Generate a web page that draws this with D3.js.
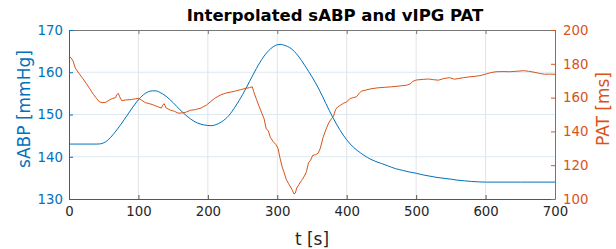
<!DOCTYPE html>
<html>
<head>
<meta charset="utf-8">
<script src="https://cdn.jsdelivr.net/npm/d3@7"></script>
<style>
  body { margin: 0; background: #fff; }
  svg { display: block; font-family: "DejaVu Sans", sans-serif; }
</style>
</head>
<body>
<div id="chart"></div>
<script>
// sABP curve: time [s] and value [mmHg]
const sabpTime = [0, 20, 40, 45, 50, 55, 60, 70, 80, 90, 100, 110, 120, 125, 130, 140, 150, 160, 170, 180, 190, 200, 205,
  210, 220, 230, 240, 250, 260, 270, 280, 290, 300, 305, 310, 320, 330, 340, 350, 360, 370, 380, 390, 400,
  410, 420, 430, 440, 450, 460, 470, 480, 490, 500, 510, 520, 530, 540, 550, 560, 570, 580, 590, 600, 650, 700];
const sabpValue = [143.0, 143.0, 143.0, 143.05, 143.3, 143.8, 144.6, 146.6, 148.9, 151.3, 153.5, 155.0, 155.6, 155.6, 155.3, 154.3, 152.8, 151.1, 149.6, 148.4, 147.7, 147.4, 147.35,
  147.5, 148.3, 149.7, 152.0, 154.7, 157.8, 160.9, 163.6, 165.5, 166.5, 166.6, 166.4, 165.6, 163.9, 161.5, 158.9, 156.0, 152.6, 149.3, 146.4, 144.0,
  142.2, 140.9, 139.8, 139.0, 138.4, 137.8, 137.2, 136.8, 136.4, 136.1, 135.7, 135.4, 135.1, 134.9, 134.7, 134.45, 134.3, 134.15, 134.05, 134.0, 134.0, 134.0];

// PAT curve: time [s] and value [ms]
const patTime = [0, 3, 6, 9, 14, 20, 25, 30, 35, 40, 44, 48, 53, 58, 63, 67, 69, 71, 73, 76, 82, 90, 96, 100, 104, 110, 116, 122, 128, 133, 135, 137, 140,
  146, 152, 157, 162, 168, 175, 182, 190, 198, 204, 210, 218, 226, 232, 240, 248, 255, 260, 264, 266, 270, 274, 278, 281, 284, 287, 290, 294, 298,
  301, 304, 307, 310, 313, 316, 320, 322, 324, 326, 328, 331, 335, 339, 342, 345, 348, 351, 355, 359, 362, 366, 370, 374, 378, 381, 384, 387, 391,
  395, 400, 405, 410, 414, 418, 421, 428, 435, 445, 455, 465, 477, 486, 491, 495, 500, 510, 518, 525, 532, 540, 548, 555, 560, 568, 575, 585, 592,
  600, 608, 615, 625, 635, 645, 655, 662, 670, 678, 685, 692, 700];
const patValue = [184.5, 183.5, 181.5, 177.5, 174.5, 171.2, 168.3, 165.2, 162.0, 159.3, 157.4, 157.0, 157.2, 158.6, 159.6, 159.9, 161.8, 162.5, 160.5, 158.2, 158.6, 158.9, 159.3, 159.6, 158.6, 157.0, 156.4, 155.6, 154.6, 153.8, 155.5, 156.4, 153.8,
  152.6, 151.9, 150.8, 150.9, 151.3, 152.5, 152.9, 153.8, 155.6, 157.6, 159.6, 161.5, 162.7, 163.2, 163.9, 164.8, 165.5, 165.9, 166.4, 163.5, 159.0, 154.6, 150.5, 147.5, 141.5, 140.5, 136.5, 134.0, 132.2,
  130.0, 124.1, 119.0, 115.5, 111.5, 109.3, 106.5, 105.0, 103.0, 103.5, 106.5, 108.5, 111.0, 113.5, 116.2, 121.5, 123.0, 125.8, 126.2, 127.2, 130.0, 136.5, 141.0, 145.0, 147.5, 149.0, 153.0, 154.5, 155.5,
  156.6, 157.5, 159.5, 160.0, 160.5, 162.5, 163.8, 164.5, 165.2, 165.8, 166.1, 166.4, 166.9, 167.3, 168.0, 169.5, 170.4, 170.8, 171.0, 170.6, 170.3, 171.3, 171.8, 170.9, 171.2, 171.8, 172.2, 172.6, 173.0,
  173.9, 174.8, 175.3, 175.4, 175.3, 175.6, 175.9, 175.6, 175.0, 174.3, 173.8, 173.9, 173.8];

const xTicks = [0, 100, 200, 300, 400, 500, 600, 700];
const leftTicks = [130, 140, 150, 160, 170];
const rightTicks = [100, 120, 140, 160, 180, 200];

const blue = '#0072BD';
const orange = '#D95319';

const W = 616, H = 249;
const margin = { top: 30, right: 61, bottom: 50, left: 69 };
const width = W - margin.left - margin.right;
const height = H - margin.top - margin.bottom;

const svg = d3.select('#chart').append('svg')
  .attr('width', W)
  .attr('height', H);

const g = svg.append('g')
  .attr('transform', `translate(${margin.left},${margin.top})`);

// Scales
const x = d3.scaleLinear().domain([0, 700]).range([0, width]);
const yL = d3.scaleLinear().domain([130, 170]).range([height, 0]);
const yR = d3.scaleLinear().domain([100, 200]).range([height, 0]);

// Grid
g.append('g')
  .selectAll('line')
  .data(xTicks.slice(1, -1))
  .enter().append('line')
  .attr('x1', d => x(d)).attr('x2', d => x(d))
  .attr('y1', 0).attr('y2', height)
  .attr('stroke', '#e3e3e3')
  .attr('stroke-width', 1);

g.append('g')
  .selectAll('line')
  .data(leftTicks.slice(1, -1))
  .enter().append('line')
  .attr('x1', 0).attr('x2', width)
  .attr('y1', d => yL(d)).attr('y2', d => yL(d))
  .attr('stroke', '#dde9f5')
  .attr('stroke-width', 1);

// Lines
const sabp = sabpTime.map((t, i) => ({ t, v: sabpValue[i] }));
const pat = patTime.map((t, i) => ({ t, v: patValue[i] }));

g.append('path')
  .datum(sabp)
  .attr('fill', 'none')
  .attr('stroke', blue)
  .attr('stroke-width', 1)
  .attr('d', d3.line().x(d => x(d.t)).y(d => yL(d.v)).curve(d3.curveMonotoneX));

g.append('path')
  .datum(pat)
  .attr('fill', 'none')
  .attr('stroke', orange)
  .attr('stroke-width', 1)
  .attr('d', d3.line().x(d => x(d.t)).y(d => yR(d.v)));

// Axes
function styleAxis(sel, color) {
  sel.select('.domain').attr('stroke', color);
  sel.selectAll('.tick line').attr('stroke', color);
  sel.selectAll('.tick text')
    .attr('fill', color)
    .style('font-size', '13.3px')
    .style('font-family', '"DejaVu Sans", sans-serif');
}

const xAxis = g.append('g')
  .attr('transform', `translate(0,${height})`)
  .call(d3.axisBottom(x).tickValues(xTicks).tickSizeInner(-4).tickSizeOuter(0).tickPadding(8));
styleAxis(xAxis, '#555');
xAxis.selectAll('.tick text').attr('fill', '#262626');

const xTop = g.append('g')
  .call(d3.axisTop(x).tickValues(xTicks).tickSizeInner(-4).tickSizeOuter(0).tickFormat(''));
styleAxis(xTop, '#777');

const yAxisL = g.append('g')
  .call(d3.axisLeft(yL).tickValues(leftTicks).tickSizeInner(-4).tickSizeOuter(0).tickPadding(6));
styleAxis(yAxisL, blue);

const yAxisR = g.append('g')
  .attr('transform', `translate(${width},0)`)
  .call(d3.axisRight(yR).tickValues(rightTicks).tickSizeInner(-4).tickSizeOuter(0).tickPadding(8));
styleAxis(yAxisR, orange);

// Labels
svg.append('text')
  .attr('x', 335)
  .attr('y', 21)
  .attr('text-anchor', 'middle')
  .style('font-size', '16.5px')
  .style('font-weight', 'bold')
  .attr('fill', '#000')
  .text('Interpolated sABP and vIPG PAT');

svg.append('text')
  .attr('x', margin.left + width / 2)
  .attr('y', 245)
  .attr('text-anchor', 'middle')
  .style('font-size', '17px')
  .attr('fill', '#262626')
  .text('t [s]');

svg.append('text')
  .attr('transform', 'translate(30,109) rotate(-90)')
  .attr('text-anchor', 'middle')
  .style('font-size', '17px')
  .attr('fill', blue)
  .text('sABP [mmHg]');

svg.append('text')
  .attr('transform', 'translate(609,109) rotate(-90)')
  .attr('text-anchor', 'middle')
  .style('font-size', '17px')
  .attr('fill', orange)
  .text('PAT [ms]');
</script>
</body>
</html>
